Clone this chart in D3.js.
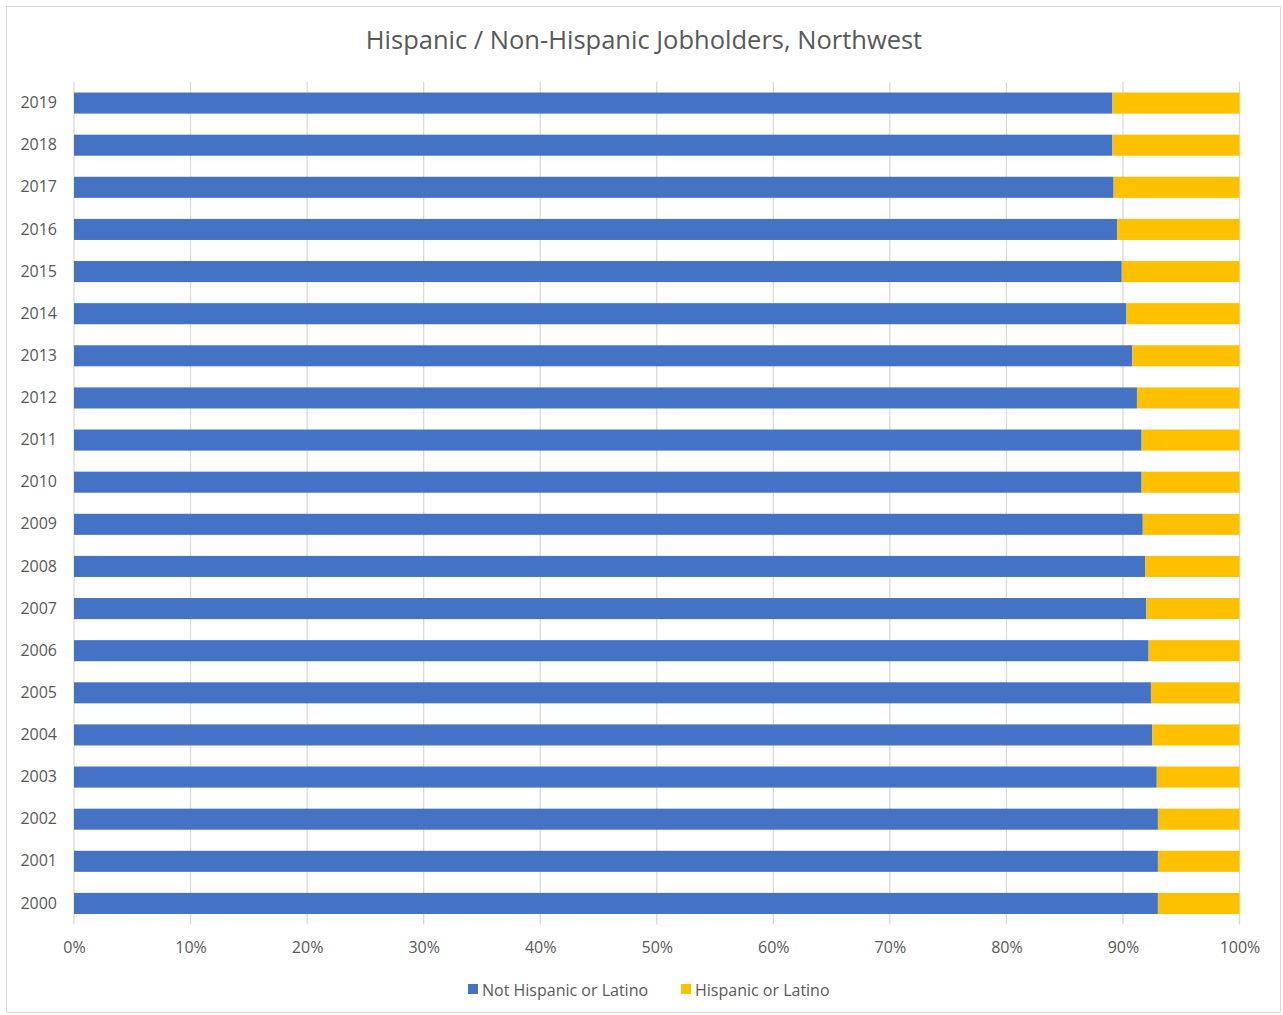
<!DOCTYPE html>
<html>
<head>
<meta charset="utf-8">
<script src="https://cdn.jsdelivr.net/npm/d3@7"></script>
<style>
  html, body { margin: 0; padding: 0; background: #fff; }
  svg { display: block; font-family: "Open Sans", "Liberation Sans", sans-serif; }
</style>
</head>
<body>
<svg id="chart" width="1283" height="1015"></svg>
<script>
// Share of jobholders by ethnicity, Northwest, 2000-2019 (percent)
const years = ["2019","2018","2017","2016","2015","2014","2013","2012","2011","2010",
               "2009","2008","2007","2006","2005","2004","2003","2002","2001","2000"];
const notHispanic = [89.1, 89.1, 89.2, 89.5, 89.9, 90.3, 90.8, 91.2, 91.6, 91.6,
                     91.7, 91.9, 92.0, 92.2, 92.4, 92.5, 92.9, 93.0, 93.0, 93.0];
const hispanic = notHispanic.map(v => 100 - v);
const seriesNames = ["Not Hispanic or Latino", "Hispanic or Latino"];
const seriesColors = ["#4472C4", "#FFC000"];
const xTicks = [0, 10, 20, 30, 40, 50, 60, 70, 80, 90, 100];
const titleText = "Hispanic / Non-Hispanic Jobholders, Northwest";

const svg = d3.select("#chart");
const W = 1283, H = 1015;
const plot = { left: 74, right: 1239.5, top: 82, bottom: 924.5 };
const fontStack = "\"Open Sans\", \"Liberation Sans\", sans-serif";

// Chart frame
svg.append("rect")
  .attr("x", 6.5).attr("y", 6.5).attr("width", W - 9).attr("height", H - 9)
  .attr("fill", "#fff").attr("stroke", "#D9D9D9").attr("stroke-width", 1);

// Title
svg.append("text")
  .attr("x", 644).attr("y", 49)
  .attr("text-anchor", "middle")
  .attr("fill", "#595959")
  .style("font-size", "25.5px")
  .text(titleText);

const x = d3.scaleLinear().domain([0, 100]).range([plot.left, plot.right]);
const y = d3.scaleBand().domain(years).range([plot.top, plot.bottom]).paddingInner(0.5).paddingOuter(0.25);

// Vertical gridlines
svg.append("g")
  .selectAll("line")
  .data(xTicks)
  .join("line")
  .attr("x1", d => x(d)).attr("x2", d => x(d))
  .attr("y1", plot.top).attr("y2", plot.bottom)
  .attr("stroke", "#D9D9D9").attr("stroke-width", 1.3);

// Stacked bars
const rows = years.map((yr, i) => ({ year: yr, a: notHispanic[i], b: hispanic[i] }));
const stack = d3.stack().keys(["a", "b"])(rows);

svg.append("g")
  .selectAll("g")
  .data(stack)
  .join("g")
  .attr("fill", (d, i) => seriesColors[i])
  .selectAll("rect")
  .data(d => d)
  .join("rect")
  .attr("x", d => x(d[0]))
  .attr("width", d => x(d[1]) - x(d[0]))
  .attr("y", d => y(d.data.year))
  .attr("height", y.bandwidth());

// Category axis labels
const yAxis = d3.axisLeft(y).tickSize(0).tickPadding(17);
const gy = svg.append("g").attr("transform", `translate(${plot.left},0)`).call(yAxis);
gy.select(".domain").remove();
gy.selectAll("text").attr("fill", "#595959").style("font-size", "16px")
  .style("font-family", fontStack);

// Value axis labels
const xAxis = d3.axisBottom(x).tickValues(xTicks).tickFormat(d => d + "%").tickSize(0).tickPadding(17);
const gx = svg.append("g").attr("transform", `translate(0,${plot.bottom})`).call(xAxis);
gx.select(".domain").remove();
gx.selectAll("text").attr("fill", "#595959").style("font-size", "16px")
  .style("font-family", fontStack);

// Legend
const legendX = [468, 681];
const legend = svg.append("g");
seriesNames.forEach((name, i) => {
  legend.append("rect")
    .attr("x", legendX[i]).attr("y", 984)
    .attr("width", 10).attr("height", 10)
    .attr("fill", seriesColors[i]);
  legend.append("text")
    .attr("x", legendX[i] + 14).attr("y", 995.5)
    .attr("fill", "#595959")
    .style("font-size", "16px")
    .text(name);
});
</script>
</body>
</html>
